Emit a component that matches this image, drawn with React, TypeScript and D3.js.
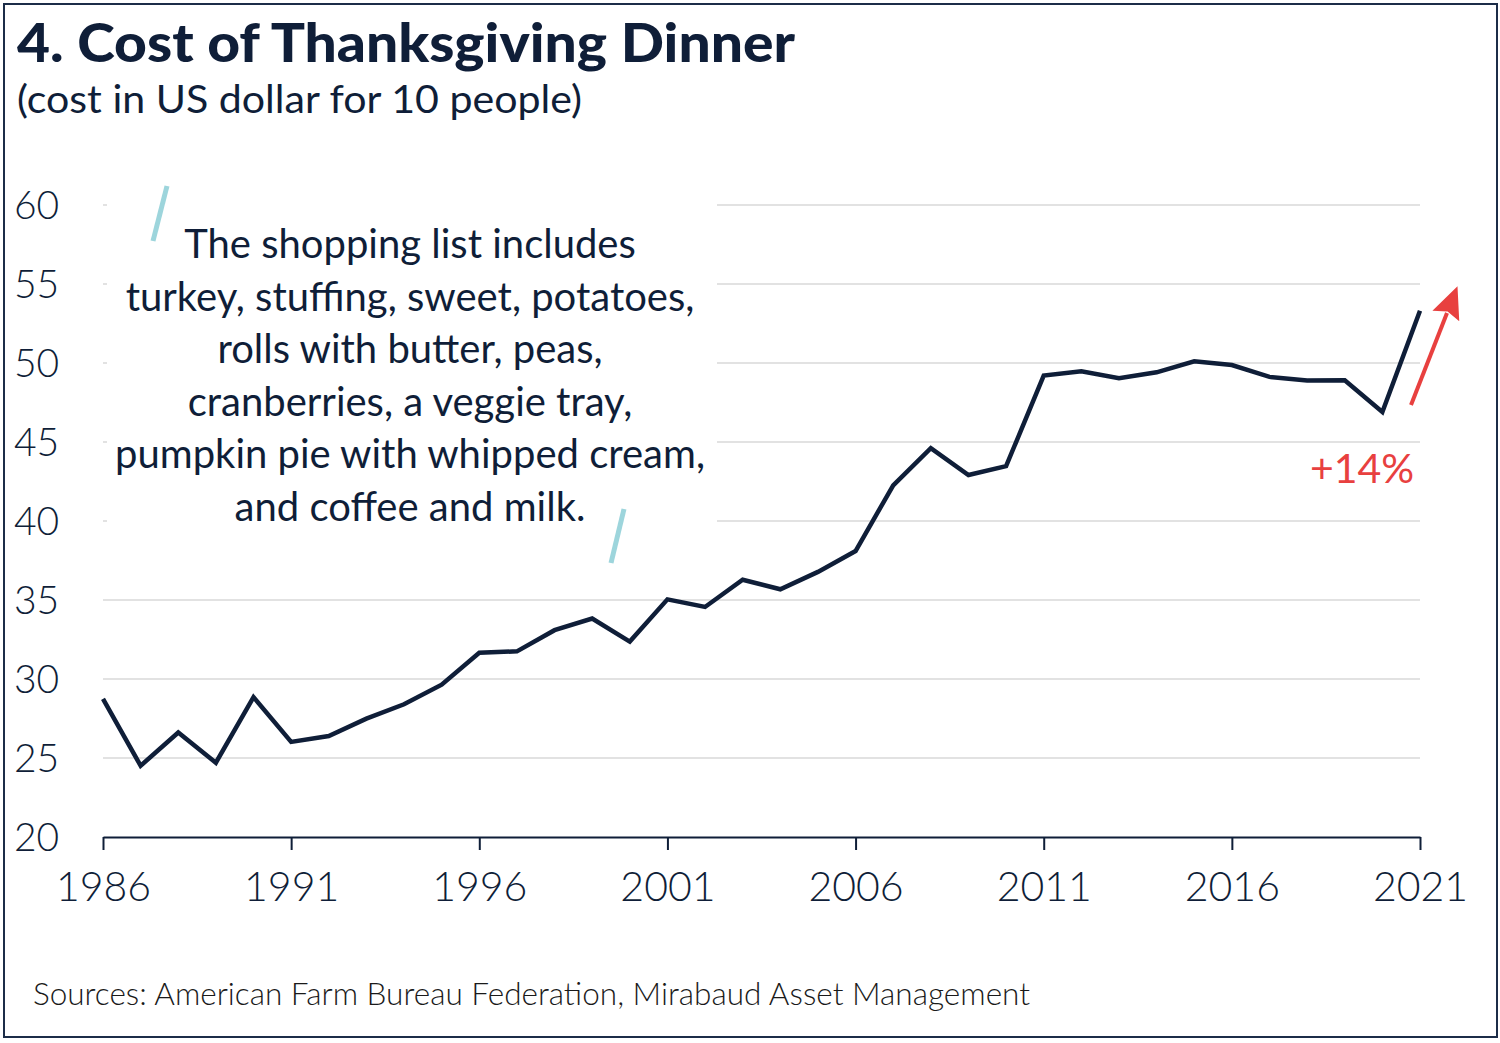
import * as d3 from 'd3';
import { useEffect, useRef } from 'react';

const YEARS = d3.range(1986, 2022);
const COSTS = [
  28.74, 24.51, 26.61, 24.70, 28.85, 26.02, 26.39, 27.49, 28.40, 29.64,
  31.66, 31.75, 33.09, 33.83, 32.37, 35.04, 34.56, 36.28, 35.68, 36.78,
  38.10, 42.26, 44.61, 42.91, 43.47, 49.20, 49.48, 49.04, 49.41, 50.11,
  49.87, 49.12, 48.90, 48.91, 46.90, 53.31
];
const Y_TICKS = [20, 25, 30, 35, 40, 45, 50, 55, 60];
const X_TICKS = [1986, 1991, 1996, 2001, 2006, 2011, 2016, 2021];
const NOTE_LINES = [
  'The shopping list includes',
  'turkey, stuffing, sweet, potatoes,',
  'rolls with butter, peas,',
  'cranberries, a veggie tray,',
  'pumpkin pie with whipped cream,',
  'and coffee and milk.'
];

const NAVY = '#0f1e38';
const RED = '#e8403f';
const TEAL = '#9dd5dc';
const FONT = 'Lato, "Open Sans", sans-serif';

function App() {
  const svgRef = useRef<SVGSVGElement>(null);

  useEffect(() => {
    if (!svgRef.current) { return; }
    const svg = d3.select(svgRef.current);
    svg.selectAll('*').remove();

    const width = 1500;
    const height = 1043;
    const padding = { left: 103, right: 80, top: 205, bottom: 206 };

    const x = d3.scaleLinear().domain([1986, 2021]).range([padding.left, width - padding.right]);
    const y = d3.scaleLinear().domain([20, 60]).range([height - padding.bottom, padding.top]);

    svg.append('rect').attr('width', width).attr('height', height).attr('fill', '#fff');

    // frame
    svg.append('rect')
      .attr('x', 4).attr('y', 4).attr('width', 1493).attr('height', 1033)
      .attr('fill', 'none').attr('stroke', '#1c2d48').attr('stroke-width', 2);

    // title
    svg.append('text')
      .attr('x', 17).attr('y', 62)
      .attr('font-family', FONT).attr('font-weight', 900).attr('font-size', 54)
      .attr('fill', NAVY)
      .attr('textLength', 778).attr('lengthAdjust', 'spacingAndGlyphs')
      .text('4. Cost of Thanksgiving Dinner');

    svg.append('text')
      .attr('x', 17).attr('y', 113)
      .attr('font-family', FONT).attr('font-size', 38)
      .attr('fill', NAVY)
      .attr('textLength', 565).attr('lengthAdjust', 'spacingAndGlyphs')
      .text('(cost in US dollar for 10 people)');

    // grid
    svg.append('g').selectAll('line')
      .data(Y_TICKS.filter(d => d > 20))
      .join('line')
      .attr('x1', x(1986)).attr('x2', x(2021))
      .attr('y1', d => y(d)).attr('y2', d => y(d))
      .attr('stroke', '#e2e2e2').attr('stroke-width', 2);

    // y labels
    svg.append('g').selectAll('text')
      .data(Y_TICKS)
      .join('text')
      .attr('x', 14).attr('y', d => y(d))
      .attr('dy', '0.35em')
      .attr('font-family', FONT).attr('font-size', 39).attr('font-weight', 300)
      .attr('fill', NAVY)
      .text(d => d);

    // x axis
    const xAxis = svg.append('g')
      .attr('transform', `translate(0,${y(20)})`)
      .call(d3.axisBottom(x).tickValues(X_TICKS).tickFormat(d3.format('d')).tickSize(13).tickSizeOuter(0).tickPadding(22));
    xAxis.select('.domain').attr('stroke', NAVY).attr('stroke-width', 2);
    xAxis.selectAll('line').attr('stroke', NAVY).attr('stroke-width', 2);
    xAxis.selectAll('text')
      .attr('fill', NAVY).attr('font-family', FONT).attr('font-size', 41).attr('font-weight', 300);

    // annotation box covers grid lines
    svg.append('rect')
      .attr('x', 107).attr('y', 185).attr('width', 610).attr('height', 350)
      .attr('fill', '#fff');

    const note = svg.append('text')
      .attr('font-family', FONT).attr('font-size', 40)
      .attr('fill', NAVY).attr('text-anchor', 'middle');
    NOTE_LINES.forEach((line, i) => {
      note.append('tspan')
        .attr('x', 410).attr('y', 258 + i * 52.5)
        .text(line);
    });

    svg.append('line')
      .attr('x1', 153).attr('y1', 241).attr('x2', 167).attr('y2', 186)
      .attr('stroke', TEAL).attr('stroke-width', 5);
    svg.append('line')
      .attr('x1', 611).attr('y1', 563).attr('x2', 624).attr('y2', 509)
      .attr('stroke', TEAL).attr('stroke-width', 5);

    // series
    const line = d3.line<number>()
      .x((_, i) => x(YEARS[i]))
      .y(d => y(d));
    svg.append('path')
      .datum(COSTS)
      .attr('d', line)
      .attr('fill', 'none')
      .attr('stroke', NAVY)
      .attr('stroke-width', 4.5)
      .attr('stroke-linejoin', 'miter');

    // arrow +14%
    const defs = svg.append('defs');
    defs.append('marker')
      .attr('id', 'arrowhead')
      .attr('viewBox', '0 0 10 10')
      .attr('refX', 1).attr('refY', 5)
      .attr('markerWidth', 8).attr('markerHeight', 8)
      .attr('markerUnits', 'strokeWidth')
      .attr('orient', 'auto')
      .append('path')
      .attr('d', 'M0,0.5 L10,5 L0,9.5 L1.5,5 Z')
      .attr('fill', RED);

    svg.append('line')
      .attr('x1', 1411).attr('y1', 405).attr('x2', 1447).attr('y2', 313)
      .attr('stroke', RED).attr('stroke-width', 4)
      .attr('marker-end', 'url(#arrowhead)');

    svg.append('text')
      .attr('x', 1362).attr('y', 483)
      .attr('text-anchor', 'middle')
      .attr('font-family', FONT).attr('font-size', 41)
      .attr('fill', RED)
      .text('+14%');

    // source
    svg.append('text')
      .attr('x', 33).attr('y', 1005)
      .attr('font-family', FONT).attr('font-size', 31).attr('font-weight', 300)
      .attr('fill', '#1a1a1a')
      .attr('textLength', 997).attr('lengthAdjust', 'spacingAndGlyphs')
      .text('Sources: American Farm Bureau Federation, Mirabaud Asset Management');
  }, []);

  return (
    <svg
      ref={svgRef}
      width={1500}
      height={1043}
      style={{ position: 'absolute', left: 0, top: 0, display: 'block' }}
    />
  );
}

export default App;
